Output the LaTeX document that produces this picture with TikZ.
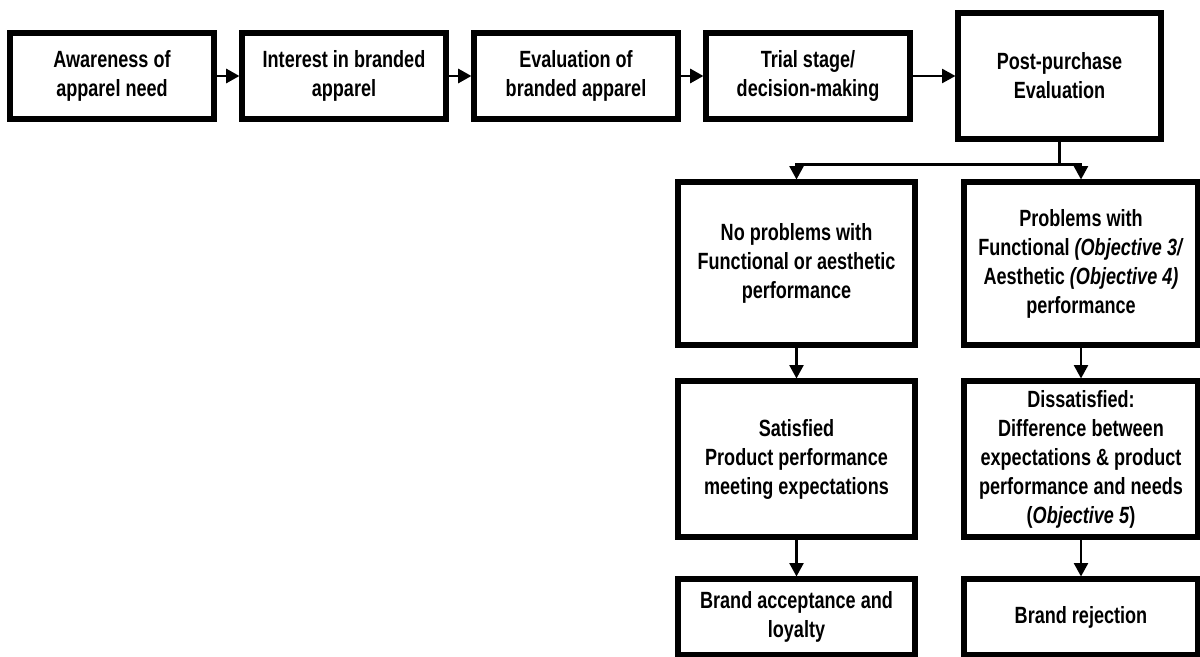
\documentclass[tikz,border=0pt]{standalone}
\usepackage{fontspec}
\setmainfont[FakeStretch=0.77]{Liberation Sans}
\usepackage{tikz}
\usetikzlibrary{positioning,calc,arrows.meta}
\tikzset{STAGE/.style={rectangle,draw,line width=3.8pt,align=flush center,inner sep=2pt,font=\fontsize{17.6}{21.75}\selectfont\bfseries}}
\tikzset{TOP/.style={STAGE,minimum width=153pt,minimum height=64.5pt}}
\tikzset{LEFTCOL/.style={STAGE,minimum width=177.75pt}}
\tikzset{RIGHTCOL/.style={STAGE,minimum width=175.5pt}}
\tikzset{ARROW/.style={line width=1.6pt,-{Triangle[length=10pt,width=10.5pt]}}}
\tikzset{LINE/.style={line width=1.6pt}}

\begin{document}
\begin{tikzpicture}[x=0.75pt,y=0.75pt]
\useasboundingbox (0,0) rectangle (1200,657);

\node[TOP] (n_awareness) at (112,581) {Awareness of\\apparel need};
\node[TOP, right=17.2pt of n_awareness] (n_interest) {Interest in branded\\apparel};
\node[TOP, right=17.2pt of n_interest] (n_evaluation) {Evaluation of\\branded apparel};
\node[TOP, right=17.2pt of n_evaluation] (n_trial) {Trial stage/\\decision-making};
\node[STAGE, minimum width=152.25pt, minimum height=94.5pt, right=32.2pt of n_trial] (n_post) {Post-purchase\\Evaluation};

\draw[ARROW, line width=2.2pt] (n_awareness) -- (n_interest);
\draw[ARROW, line width=2.2pt] (n_interest) -- (n_evaluation);
\draw[ARROW, line width=2.2pt] (n_evaluation) -- (n_trial);
\draw[ARROW] (n_trial) -- (n_post);

\node[LEFTCOL, minimum height=122.25pt] (n_noprob) at (796.5,393.5) {No problems with\\Functional or aesthetic\\performance};
\node[RIGHTCOL, minimum height=122.25pt] (n_prob) at (1081,393.5) {Problems with\\Functional \textit{(Objective 3/}\\Aesthetic \textit{(Objective 4)}\\performance};

\coordinate (c_split) at ($(n_post.south)+(0,-23)$);
\draw[LINE] (n_post.south) -- (c_split);
\draw[ARROW] (c_split) -| (n_noprob.north);
\draw[ARROW] (c_split) -| (n_prob.north);

\node[LEFTCOL, minimum height=117pt, below=23.2pt of n_noprob] (n_satisfied) {Satisfied\\Product performance\\meeting expectations};
\node[RIGHTCOL, minimum height=117pt, below=23.2pt of n_prob] (n_dissatisfied) {Dissatisfied:\\Difference between\\expectations \& product\\performance and needs\\(\textit{Objective 5})};

\draw[ARROW] (n_noprob) -- (n_satisfied);
\draw[ARROW] (n_prob) -- (n_dissatisfied);

\node[LEFTCOL, minimum height=57pt, below=27.7pt of n_satisfied] (n_acceptance) {Brand acceptance and\\loyalty};
\node[RIGHTCOL, minimum height=57pt, below=27.7pt of n_dissatisfied] (n_rejection) {Brand rejection};

\draw[ARROW] (n_satisfied) -- (n_acceptance);
\draw[ARROW] (n_dissatisfied) -- (n_rejection);

\end{tikzpicture}
\end{document}
